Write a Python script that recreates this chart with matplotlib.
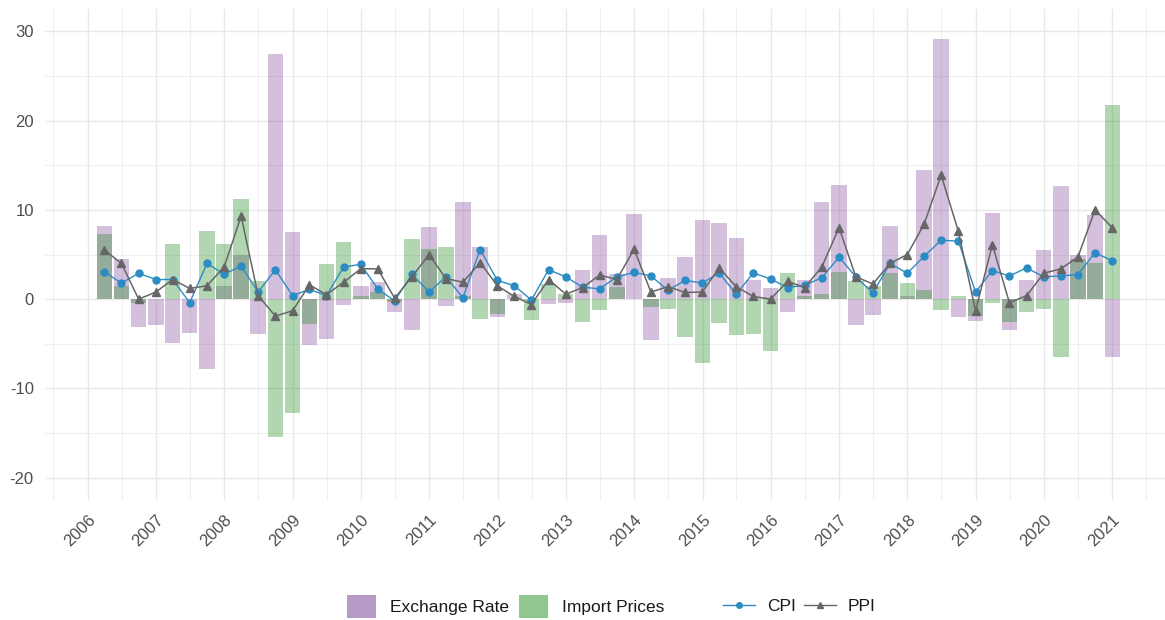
import matplotlib
matplotlib.use('Agg')
import matplotlib.pyplot as plt
from matplotlib.patches import Patch
from matplotlib.lines import Line2D
import numpy as np
import pandas as pd

plt.rcParams['font.family'] = ['Liberation Sans', 'DejaVu Sans']
plt.rcParams['axes.unicode_minus'] = False

# quarterly changes, 2006Q1 - 2020Q4
quarters = pd.period_range('2006Q1', periods=60, freq='Q')
exchange_rate = [8.2, 4.5, -3.1, -2.95, -4.9, -3.8, -7.8, 1.45, 4.9, -3.9,
                 27.5, 7.5, -5.15, -4.45, -0.6, 1.5, 1.9, -1.4, -3.5, 8.05,
                 -0.75, 10.9, 5.8, -2.0, 0.55, 0.0, -0.5, -0.4, 3.25, 7.2,
                 2.8, 9.55, -4.6, 2.4, 4.75, 8.9, 8.5, 6.9, 2.1, 1.3,
                 -1.4, 2.1, 10.9, 12.75, -2.9, -1.8, 8.2, 0.35, 14.5, 29.1,
                 -2.0, -2.5, 9.7, -3.45, 2.1, 5.5, 12.65, 5.0, 9.4, -6.45]
import_prices = [7.3, 1.45, -0.4, 0.0, 6.2, 0.0, 7.65, 6.2, 11.2, 2.0,
                 -15.4, -12.7, -2.8, 3.9, 6.4, 0.4, 0.8, -0.3, 6.7, 5.6,
                 5.8, 0.3, -2.2, -1.65, 0.0, -2.3, 1.75, 0.6, -2.6, -1.2,
                 1.4, 0.0, -0.9, -1.15, -4.2, -7.2, -2.7, -4.05, -3.9, -5.8,
                 2.9, 0.35, 0.6, 3.05, 2.0, 1.5, 2.9, 1.8, 1.0, -1.2,
                 0.3, -1.9, -0.4, -2.55, -1.4, -1.05, -6.5, 4.55, 4.05, 21.7]
cpi = [3.05, 1.8, 2.9, 2.2, 2.2, -0.4, 4.0, 2.8, 3.7, 0.8,
       3.3, 0.4, 1.1, 0.4, 3.6, 3.9, 1.15, -0.2, 2.8, 0.8,
       2.5, 0.15, 5.55, 2.1, 1.5, -0.1, 3.3, 2.5, 1.35, 1.15,
       2.5, 3.0, 2.6, 1.0, 2.1, 1.8, 2.95, 0.55, 2.95, 2.25,
       1.3, 1.55, 2.4, 4.7, 2.5, 0.7, 4.0, 2.9, 4.8, 6.6,
       6.5, 0.8, 3.2, 2.6, 3.5, 2.5, 2.6, 2.75, 5.2, 4.3]
ppi = [5.5, 4.0, 0.0, 0.8, 2.2, 1.2, 1.5, 3.6, 9.3, 0.4,
       -1.9, -1.3, 1.6, 0.5, 1.9, 3.4, 3.4, 0.1, 2.5, 5.0,
       2.3, 1.9, 4.1, 1.5, 0.3, -0.6, 2.2, 0.55, 1.3, 2.7,
       2.2, 5.6, 0.8, 1.4, 0.75, 0.8, 3.5, 1.4, 0.3, 0.0,
       2.0, 1.3, 3.6, 8.0, 2.5, 1.7, 4.0, 5.0, 8.4, 13.9,
       7.6, -1.3, 6.1, -0.4, 0.4, 2.9, 3.4, 4.7, 10.0, 8.0]
years = list(range(2006, 2022))

dates = quarters.to_timestamp(how='end').normalize()

purple = '#84489e'
green = '#228b22'
blue = '#2b8cc4'
grey = '#666666'

fig = plt.figure(figsize=(11.65, 6.2), dpi=100)
ax = fig.add_axes([0.0386, 0.1935, 0.9614, 0.792])

ax.bar(dates, exchange_rate, width=82, color=purple, alpha=0.35, zorder=2)
ax.bar(dates, import_prices, width=82, color=green, alpha=0.35, zorder=3)
ax.plot(dates, cpi, color=blue, lw=1.0, marker='o', ms=5, zorder=4)
ax.plot(dates, ppi, color=grey, lw=1.1, marker='^', ms=6, zorder=5)

ax.set_ylim(-22.5, 32.5)
ax.set_xlim(pd.Timestamp('2005-05-17'), pd.Timestamp('2021-10-09'))
ax.set_yticks(np.arange(-20, 31, 10))
ax.set_yticks(np.arange(-15, 31, 10), minor=True)
ax.set_xticks([pd.Timestamp(f'{y}-01-01') for y in years])
ax.set_xticks([pd.Timestamp(f'{y}-07-01') for y in range(2005, 2022)], minor=True)
ax.set_xticklabels([str(y) for y in years], rotation=45, ha='right', va='top',
                   rotation_mode='anchor')

ax.grid(which='major', color='#e8e8e8', lw=1.0, zorder=0)
ax.grid(which='minor', color='#efefef', lw=0.8, zorder=0)
ax.set_axisbelow(True)
for s in ax.spines.values():
    s.set_visible(False)
ax.tick_params(which='both', length=0, labelsize=12, labelcolor='#4d4d4d')
ax.tick_params(axis='x', pad=9)
ax.tick_params(axis='y', pad=8)

fill_handles = [Patch(facecolor='#b89ac6', label='Exchange Rate'),
                Patch(facecolor='#8fc78f', label='Import Prices')]
line_handles = [Line2D([], [], color=blue, lw=1.0, marker='o', ms=4, label='CPI'),
                Line2D([], [], color=grey, lw=1.0, marker='^', ms=4.5, label='PPI')]
leg1 = fig.legend(handles=fill_handles, loc='center left', bbox_to_anchor=(0.298, 0.022),
                  ncol=2, frameon=False, fontsize=12.5, handlelength=1.65, handleheight=1.6,
                  handletextpad=0.8, columnspacing=0.6, borderaxespad=0, borderpad=0)
leg2 = fig.legend(handles=line_handles, loc='center left', bbox_to_anchor=(0.621, 0.022),
                  ncol=2, frameon=False, fontsize=12.5, handlelength=1.8,
                  handletextpad=0.7, columnspacing=0.5, borderaxespad=0, borderpad=0)
for leg in (leg1, leg2):
    for t in leg.get_texts():
        t.set_color('#1a1a1a')

fig.savefig('out.png', dpi=100)
